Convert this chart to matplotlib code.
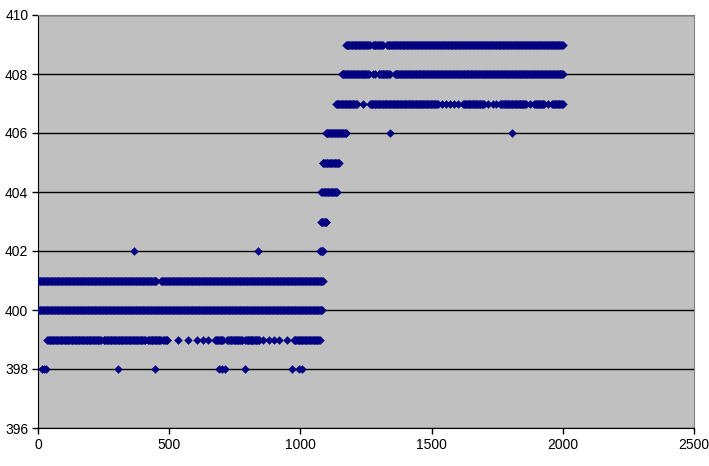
import numpy as np
import matplotlib
matplotlib.use("Agg")
import matplotlib.pyplot as plt

plt.rcParams['font.family'] = ['Liberation Sans', 'DejaVu Sans']

# Dense runs of observations per level: (x_start, x_end)
runs = {
    398: [],
    399: [(35, 240), (250, 410), (418, 470), (478, 495), (675, 705), (722, 780),
          (790, 846), (975, 1075)],
    400: [(0, 1083)],
    401: [(0, 450), (468, 1088)],
    402: [(1075, 1088)],
    403: [(1078, 1100)],
    404: [(1080, 1140)],
    405: [(1085, 1150)],
    406: [(1097, 1175)],
    407: [(1136, 1216), (1265, 1524), (1620, 1700), (1760, 1860), (1890, 1930), (1960, 2000)],
    408: [(1158, 1262), (1298, 1341), (1361, 2000)],
    409: [(1174, 1265), (1277, 1315), (1330, 2000)],
}
# Isolated observations per level
singles = {
    398: [15, 22, 30, 305, 446, 688, 700, 712, 789, 968, 993, 1005],
    399: [534, 572, 606, 629, 648, 810, 858, 880, 900, 920, 949],
    402: [366, 838],
    406: [1341, 1806],
    407: [1240, 1540, 1555, 1570, 1585, 1600, 1715, 1735, 1745, 1875, 1945],
    408: [1275, 1285],
    409: [],
}

xs, ys = [], []
for lvl, segs in runs.items():
    for a, b in segs:
        pts = np.arange(a, b + 1, 3)
        xs.extend(pts)
        ys.extend([lvl] * len(pts))
for lvl, pts in singles.items():
    xs.extend(pts)
    ys.extend([lvl] * len(pts))

fig = plt.figure(figsize=(7.09, 4.66), dpi=100)
ax = fig.add_axes([38 / 709, 38 / 466, 656 / 709, 413 / 466])
ax.set_facecolor('#C0C0C0')
ax.scatter(xs, ys, marker='D', s=19, color='#000080', linewidths=0, zorder=3)

ax.set_xlim(0, 2500)
ax.set_ylim(396, 410)
ax.set_xticks(np.arange(0, 2501, 500))
ax.set_yticks(np.arange(396, 411, 2))
ax.yaxis.grid(True, color='black', linewidth=1)
ax.set_axisbelow(True)
ax.tick_params(axis='both', direction='out', length=4, width=1, labelsize=10,
               colors='black', pad=3)
for s in ('top', 'right'):
    ax.spines[s].set_color('#808080')
for s in ('left', 'bottom'):
    ax.spines[s].set_color('black')

fig.savefig('out.png', dpi=100)
